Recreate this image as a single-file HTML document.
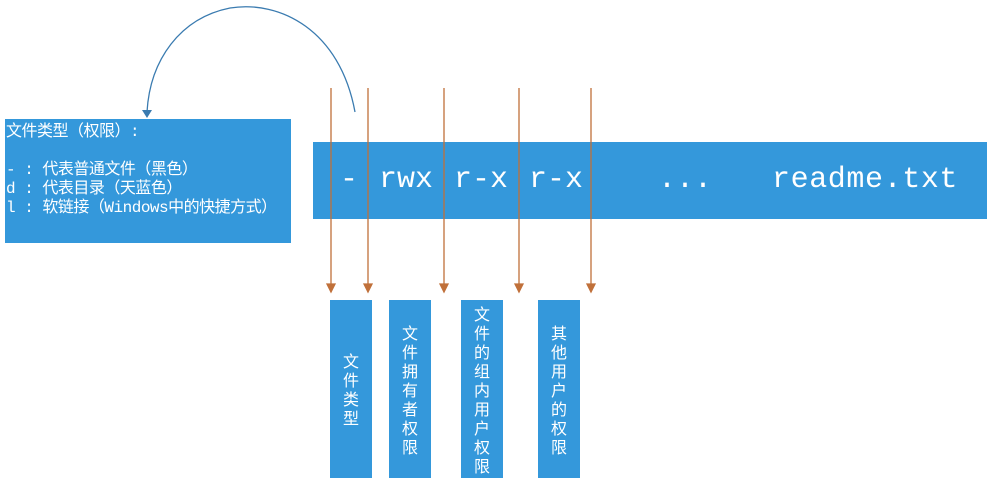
<!DOCTYPE html>
<html><head><meta charset="utf-8"><style>
body{margin:0;width:987px;height:484px;background:#fff;position:relative;overflow:hidden;font-family:"Liberation Mono","Noto Sans CJK SC",monospace}
.b{position:absolute;background:#3498db;color:#fff}
.v{position:absolute;background:#3498db;color:#fff;font-family:"Noto Sans CJK SC",sans-serif;font-size:16px;line-height:19px;width:16px;text-align:center;display:flex;align-items:center;justify-content:center}
.t{position:absolute;color:#fff;font-family:"Liberation Mono","Noto Serif CJK SC",monospace;font-size:30px;top:163px}
</style></head><body>
<div class="b" style="left:5px;top:119px;width:286px;height:124px;font-size:16px;line-height:19px;padding:4px 0 0 1px;box-sizing:border-box;white-space:pre;letter-spacing:-0.5px">文件类型（权限）:

- : 代表普通文件（黑色）
d : 代表目录（天蓝色）
l : 软链接（Windows中的快捷方式）</div>
<div class="b" style="left:313px;top:142px;width:674px;height:77px"></div>
<div class="t" style="left:340px">-</div>
<div class="t" style="left:379px">rwx</div>
<div class="t" style="left:454px">r-x</div>
<div class="t" style="left:529px">r-x</div>
<div class="t" style="left:658px">...</div>
<div class="t" style="left:772px;letter-spacing:0.6px">readme.txt</div>
<div class="b" style="left:330px;top:300px;width:42px;height:178px"><div class="v" style="position:absolute;left:13px;top:0;height:178px">文件类型</div></div>
<div class="b" style="left:389px;top:300px;width:42px;height:178px"><div class="v" style="position:absolute;left:13px;top:0;height:178px">文件拥有者权限</div></div>
<div class="b" style="left:461px;top:300px;width:42px;height:178px"><div class="v" style="position:absolute;left:13px;top:0;height:178px">文件的组内用户权限</div></div>
<div class="b" style="left:538px;top:300px;width:42px;height:178px"><div class="v" style="position:absolute;left:13px;top:0;height:178px">其他用户的权限</div></div>
<svg width="987" height="484" style="position:absolute;left:0;top:0">
<g stroke="#c0703a" stroke-width="1.3" fill="#c0703a">
<line x1="331" y1="88" x2="331" y2="286"/><polygon points="327,284 335,284 331,292"/>
<line x1="368" y1="88" x2="368" y2="286"/><polygon points="364,284 372,284 368,292"/>
<line x1="444" y1="88" x2="444" y2="286"/><polygon points="440,284 448,284 444,292"/>
<line x1="519" y1="88" x2="519" y2="286"/><polygon points="515,284 523,284 519,292"/>
<line x1="591" y1="88" x2="591" y2="286"/><polygon points="587,284 595,284 591,292"/>
</g>
<path d="M355,112 C340,30 280,0 230,8 C180,18 150,60 147,112" stroke="#3a7bb0" stroke-width="1.3" fill="none"/>
<polygon points="142,110 152,110 147,118" fill="#3a7bb0"/>
</svg>
</body></html>
